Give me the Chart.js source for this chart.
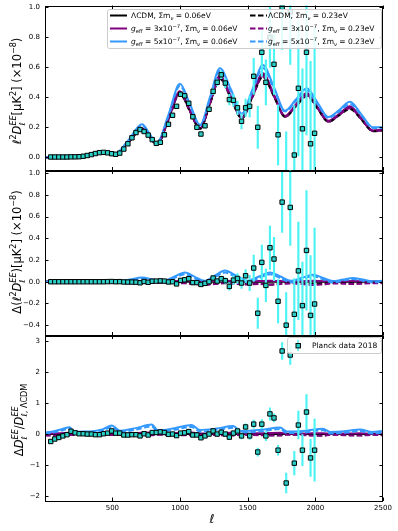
<!DOCTYPE html>
<html><head><meta charset="utf-8">
<script src="https://cdn.jsdelivr.net/npm/chart.js@4/dist/chart.umd.min.js"></script>
<style>
html,body{margin:0;padding:0;background:#fff;}
#wrap{position:relative;width:398px;height:531px;}
canvas{position:absolute;left:0;top:0;}
</style></head><body>
<div id="wrap">
<canvas id="c1" width="398" height="531"></canvas>
<canvas id="c2" width="398" height="531"></canvas>
<canvas id="c3" width="398" height="531"></canvas>
</div>
<script>
// ---------- Planck 2018 EE binned data (multipole bin centres) ----------
const dataEll = [44.5,74.5,104.5,134.5,164.5,194.5,224.5,254.5,284.5,314.5,
 344.5,374.5,404.5,434.5,464.5,494.5,524.5,554.5,584.5,614.5,
 644.5,674.5,704.5,734.5,764.5,794.5,824.5,854.5,884.5,914.5,
 944.5,974.5,1004.5,1034.5,1064.5,1094.5,1124.5,1154.5,1184.5,1214.5,
 1244.5,1274.5,1304.5,1334.5,1364.5,1394.5,1424.5,1454.5,1484.5,1514.5,
 1544.5,1574.5,1604.5,1634.5,1664.5,1694.5,1724.5,1754.5,1784.5,1814.5,
 1844.5,1874.5,1904.5,1934.5,1964.5,1994.5];
// panel 1: l^2 D_l^EE (x1e-8)
const dataD = [0.002,0.002,0.002,0.002,0.002,0.003,0.003,0.004,0.007,0.012,
 0.018,0.025,0.031,0.033,0.030,0.024,0.020,0.028,0.055,0.090,
 0.130,0.165,0.185,0.172,0.148,0.118,0.093,0.100,0.150,0.220,
 0.280,0.340,0.420,0.410,0.360,0.270,0.200,0.155,0.210,0.320,
 0.440,0.500,0.550,0.495,0.385,0.380,0.330,0.240,0.330,0.340,
 0.540,0.200,0.700,0.500,0.800,0.620,0.150,1.000,-0.130,0.970,
 0.015,0.460,0.190,0.700,0.090,0.160];
// panel 2: difference to LCDM (x1e-8)
const dataDelta = [0,0,0,0,0,0,0,0,0,0,
 0,0,0,0,0.001,0.002,0,0.001,-0.002,-0.003,
 -0.003,-0.004,-0.010,0.002,-0.005,0.005,0.006,0.008,0.006,-0.002,
 0.000,-0.020,0.012,0.018,0.028,-0.008,-0.008,-0.025,-0.015,0.000,
 0.034,0.006,0.028,0.009,-0.043,0.015,0.030,-0.012,0.055,-0.012,
 0.126,-0.290,0.178,-0.034,0.313,0.209,-0.180,0.733,-0.400,0.684,
 -0.300,0.100,-0.220,0.288,-0.310,-0.205];
// panel 3: relative difference
const dataRel = [-0.24,-0.16,-0.11,-0.06,-0.02,0.09,0.04,0.01,0.01,0.00,
 0.00,-0.02,-0.02,0.01,0.03,0.10,0.03,0.03,-0.03,-0.03,
 -0.02,-0.02,-0.06,0.01,-0.03,0.05,0.05,0.07,0.05,-0.01,
 0.00,-0.05,0.03,0.04,0.08,-0.03,-0.03,-0.12,-0.06,0.00,
 0.10,0.00,0.06,0.00,-0.10,0.03,0.10,-0.06,0.23,-0.06,
 0.32,-0.58,0.32,-0.06,0.65,0.52,-0.52,2.68,-1.58,2.55,
 -0.94,0.29,-0.52,0.71,-0.77,-0.52];
const errAbs = [0.002,0.002,0.002,0.002,0.002,0.002,0.002,0.002,0.002,0.002,
 0.002,0.002,0.002,0.002,0.002,0.002,0.002,0.002,0.002,0.002,
 0.004,0.004,0.004,0.004,0.004,0.004,0.004,0.004,0.004,0.004,
 0.008,0.008,0.008,0.008,0.008,0.008,0.008,0.012,0.014,0.016,
 0.020,0.022,0.025,0.030,0.035,0.040,0.045,0.050,0.058,0.070,
 0.120,0.140,0.160,0.150,0.200,0.200,0.200,0.280,0.300,0.350,
 0.330,0.450,0.400,0.550,0.550,0.700];
const errRel = [0.02,0.02,0.02,0.02,0.02,0.02,0.02,0.02,0.02,0.02,
 0.02,0.02,0.02,0.02,0.02,0.02,0.02,0.02,0.02,0.02,
 0.02,0.02,0.02,0.02,0.02,0.02,0.02,0.02,0.02,0.02,
 0.02,0.02,0.02,0.02,0.02,0.02,0.02,0.04,0.04,0.05,
 0.05,0.05,0.05,0.06,0.07,0.08,0.09,0.10,0.10,0.11,
 0.13,0.13,0.15,0.15,0.20,0.13,0.16,0.27,0.32,0.30,
 0.38,0.45,0.50,0.56,0.60,1.00];

// ---------- theory curves, panel 1 ----------
const thEll1 = [2,100,200,280,340,408,460,515,617,719,773,828,913,999,1073,1148,1221,1295,1375,1456,1534,1612,1694,1776,1856,1936,2016,2096,2176,2256,2341,2426,2500];
const lcdm1    = [0,0.0008,0.002,0.008,0.020,0.031,0.026,0.019,0.100,0.190,0.140,0.085,0.250,0.433,0.310,0.190,0.360,0.535,0.400,0.260,0.405,0.550,0.410,0.270,0.345,0.420,0.330,0.238,0.285,0.333,0.255,0.175,0.180];
const g3m006_1 = [0,0.0008,0.002,0.008,0.020,0.031,0.026,0.019,0.101,0.193,0.142,0.086,0.253,0.440,0.315,0.193,0.366,0.545,0.408,0.265,0.412,0.560,0.418,0.276,0.352,0.428,0.337,0.243,0.290,0.340,0.260,0.179,0.184];
const g5m006_1 = [0,0.0009,0.0025,0.009,0.022,0.034,0.028,0.021,0.112,0.220,0.160,0.093,0.280,0.490,0.355,0.215,0.400,0.593,0.455,0.290,0.450,0.615,0.468,0.310,0.385,0.460,0.365,0.268,0.315,0.370,0.285,0.200,0.200];
const lcdm023_1 = [0,0.0008,0.002,0.008,0.019,0.030,0.025,0.018,0.098,0.187,0.138,0.085,0.245,0.425,0.305,0.190,0.355,0.522,0.395,0.260,0.398,0.535,0.405,0.270,0.338,0.408,0.325,0.236,0.280,0.322,0.250,0.174,0.178];
const g3m023_1 = [0,0.0008,0.002,0.008,0.019,0.030,0.025,0.018,0.099,0.189,0.140,0.086,0.248,0.430,0.308,0.191,0.358,0.527,0.399,0.262,0.402,0.540,0.409,0.272,0.342,0.413,0.329,0.238,0.283,0.327,0.253,0.176,0.180];
const g5m023_1 = [0,0.0009,0.0024,0.009,0.021,0.033,0.027,0.020,0.109,0.213,0.155,0.092,0.272,0.475,0.345,0.212,0.390,0.575,0.440,0.288,0.437,0.595,0.455,0.305,0.375,0.445,0.355,0.263,0.305,0.355,0.277,0.196,0.196];

// ---------- theory curves, panel 2 (difference) ----------
const thEll2 = [2,300,420,540,630,717,800,870,953,1037,1110,1180,1256,1332,1416,1500,1583,1665,1743,1820,1900,1983,2057,2130,2204,2278,2350,2420,2500];
const zeroEll = [2,2500];
const zeroVal = [0,0];
const g3m006_2 = [0,0,0.001,0,0.002,0.004,0.002,0.001,0.004,0.008,0.004,0.002,0.006,0.010,0.006,0.003,0.006,0.010,0.006,0.003,0.005,0.008,0.005,0.003,0.004,0.006,0.004,0.002,0.003];
const g5m006_2 = [0,0.001,0.005,0.002,0.020,0.040,0.020,0.005,0.045,0.086,0.045,0.008,0.055,0.104,0.055,0.010,0.048,0.086,0.048,0.008,0.036,0.064,0.035,0.006,0.020,0.034,0.020,0.005,0.008];
const lcdm023_2 = [0,0,-0.001,0,-0.002,-0.005,-0.006,-0.008,-0.010,-0.012,-0.018,-0.025,-0.018,-0.010,-0.016,-0.022,-0.016,-0.025,-0.018,-0.012,-0.016,-0.020,-0.016,-0.010,-0.012,-0.015,-0.012,-0.008,-0.010];
const g3m023_2 = [0,0,-0.001,0,-0.002,-0.006,-0.008,-0.010,-0.012,-0.015,-0.022,-0.028,-0.022,-0.014,-0.020,-0.026,-0.020,-0.028,-0.022,-0.016,-0.022,-0.030,-0.024,-0.016,-0.018,-0.022,-0.018,-0.014,-0.015];
const g5m023_2 = [0,0.001,0.004,0,0.014,0.030,0.012,-0.004,0.032,0.068,0.032,-0.006,0.040,0.084,0.040,-0.006,0.034,0.068,0.032,-0.006,0.024,0.050,0.022,-0.008,0.010,0.024,0.010,-0.006,-0.002];

// ---------- theory curves, panel 3 (relative) ----------
const thEll3 = [2,50,120,187,211,300,431,495,556,680,790,837,960,1086,1147,1270,1392,1450,1600,1739,1790,1930,2057,2110,2230,2330,2420,2500];
const g3m006_3 = [0.01,0.02,0.03,0.04,0.02,0.02,0.03,0.05,0.02,0.035,0.05,0.02,0.03,0.05,0.02,0.03,0.045,0.015,0.025,0.04,0.012,0.02,0.03,0.01,0.015,0.025,0.01,0.015];
const g5m006_3 = [0.05,0.075,0.15,0.22,0.075,0.08,0.16,0.28,0.11,0.20,0.31,0.12,0.19,0.29,0.13,0.18,0.26,0.10,0.14,0.215,0.08,0.11,0.17,0.07,0.10,0.15,0.07,0.10];
const lcdm023_3 = [-0.04,-0.04,-0.03,-0.02,-0.02,-0.015,-0.015,-0.02,-0.015,-0.02,-0.025,-0.01,-0.02,-0.03,-0.01,-0.025,-0.035,-0.01,-0.03,-0.04,-0.01,-0.03,-0.045,-0.01,-0.03,-0.04,-0.015,-0.03];
const g3m023_3 = [-0.05,-0.05,-0.04,-0.03,-0.03,-0.025,-0.025,-0.03,-0.025,-0.03,-0.035,-0.02,-0.03,-0.04,-0.02,-0.035,-0.045,-0.02,-0.04,-0.05,-0.02,-0.04,-0.055,-0.02,-0.04,-0.05,-0.025,-0.04];
const g5m023_3 = [0.02,0.04,0.11,0.17,0.04,0.05,0.12,0.22,0.07,0.15,0.25,0.07,0.14,0.23,0.08,0.13,0.20,0.05,0.09,0.16,0.03,0.06,0.12,0.02,0.05,0.10,0.02,0.05];

// ---------- ticks ----------
const xTicks = [500,1000,1500,2000,2500];
const yTicks1 = [0,0.2,0.4,0.6,0.8,1.0];
const yTicks2 = [-0.4,-0.2,0,0.2,0.4,0.6,0.8,1.0];
const yTicks3 = [-2,-1,0,1,2,3];

// ---------- styling ----------
const FAM = '"DejaVu Sans", sans-serif';
const C_BLACK = '#000000', C_PURPLE = '#800080', C_BLUE = '#3399ff';
const C_MARK = '#2ad0c8', C_ERR = '#4ef3f3';

function pts(xs, ys){ return xs.map((x,i)=>({x:x, y:ys[i]})); }
function lineDs(xs, ys, color, dashed, order){
  return {type:'line', data:pts(xs,ys), borderColor:color, borderWidth:2,
    borderDash: dashed?[5.5,2.5]:[], pointRadius:0, fill:false,
    cubicInterpolationMode:'monotone', order:order};
}
function errDs(xs, ys, es){
  return {type:'bar', data:xs.map((x,i)=>({x:x, y:[ys[i]-es[i], ys[i]+es[i]]})),
    backgroundColor:C_ERR, barThickness:1.5, grouped:false, order:1};
}
function markDs(xs, ys){
  return {type:'scatter', data:pts(xs,ys), pointStyle:'rect', pointRadius:3.1,
    backgroundColor:C_MARK, borderColor:'#000', borderWidth:1, order:0};
}

function fnt(sz, it){ return (it?'italic ':'') + sz + 'px ' + FAM; }
function layoutRich(ctx, parts, size){
  let w = 0; const items = [];
  for (const p of parts){
    if (p.stack){
      const s = size*0.7;
      ctx.font = fnt(s, true); const w1 = ctx.measureText(p.sup).width;
      ctx.font = fnt(s, p.subIt !== false); const w2 = ctx.measureText(p.sub).width;
      items.push({x:w, t:p.sup, f:fnt(s,true), dy:-size*0.45});
      items.push({x:w, t:p.sub, f:fnt(s,p.subIt !== false), dy:size*0.3});
      w += Math.max(w1,w2);
    } else {
      const s = p.pos ? size*0.7 : size;
      const f = fnt(s, p.it);
      ctx.font = f; const tw = ctx.measureText(p.t).width;
      items.push({x:w, t:p.t, f:f, dy: p.pos==='sup' ? -size*0.42 : (p.pos==='sub' ? size*0.25 : 0)});
      w += tw;
    }
  }
  return {w:w, items:items};
}
function drawRich(ctx, parts, size, x, y, rot, align){
  ctx.save(); ctx.translate(x, y); if (rot) ctx.rotate(rot);
  const L = layoutRich(ctx, parts, size);
  const x0 = align === 'left' ? 0 : -L.w/2;
  ctx.textBaseline = 'alphabetic'; ctx.textAlign = 'left'; ctx.fillStyle = '#000';
  for (const it of L.items){ ctx.font = it.f; ctx.fillText(it.t, x0 + it.x, it.dy + size*0.36); }
  ctx.restore();
}

function framePlugin(yT, extra){
  return {
    id:'frame',
    afterDatasetsDraw(chart){
      const ctx = chart.ctx, a = chart.chartArea, xs = chart.scales.x, ys = chart.scales.y;
      ctx.save();
      ctx.strokeStyle = '#000'; ctx.lineWidth = 1;
      ctx.strokeRect(Math.round(a.left)+0.5, Math.round(a.top)+0.5, Math.round(a.right-a.left)-1, Math.round(a.bottom-a.top)-1);
      ctx.beginPath();
      const TL = 3.5;
      for (const v of xTicks){
        const px = Math.round(xs.getPixelForValue(v))+0.5;
        ctx.moveTo(px, a.bottom); ctx.lineTo(px, a.bottom-TL);
        ctx.moveTo(px, a.top); ctx.lineTo(px, a.top+TL);
      }
      for (const v of yT){
        const py = Math.round(ys.getPixelForValue(v))+0.5;
        ctx.moveTo(a.left, py); ctx.lineTo(a.left+TL, py);
        ctx.moveTo(a.right, py); ctx.lineTo(a.right-TL, py);
      }
      ctx.stroke();
      ctx.restore();
    },
    afterDraw(chart){ if (extra) extra(chart); }
  };
}

function makeChart(id, cfg){
  return new Chart(document.getElementById(id), {
    type:'scatter',
    data:{datasets:cfg.datasets},
    options:{
      responsive:false, animation:false, devicePixelRatio:1, events:[],
      layout:{padding:{top:cfg.top, bottom:cfg.bottom, left:0, right:15}},
      plugins:{legend:{display:false}, tooltip:{enabled:false}},
      scales:{
        x:{type:'linear', min:2, max:2500, display:cfg.showX, offset:false,
          grid:{display:false, drawTicks:false, offset:false}, border:{display:false},
          afterBuildTicks:s=>{ s.ticks = xTicks.map(v=>({value:v})); },
          afterFit:s=>{ if (cfg.showX) s.height = 20; s.paddingLeft = 0; s.paddingRight = 0; },
          ticks:{font:{size:7, family:FAM}, color:'#000', padding:3, maxRotation:0, autoSkip:false,
            callback:v=>String(v)}},
        y:{type:'linear', min:cfg.min, max:cfg.max,
          grid:{display:false, drawTicks:false}, border:{display:false},
          afterBuildTicks:s=>{ s.ticks = cfg.yTicks.map(v=>({value:v})); },
          afterFit:s=>{ s.width = 45; s.paddingTop = 0; s.paddingBottom = 0; },
          ticks:{font:{size:7, family:FAM}, color:'#000', padding:5, autoSkip:false,
            callback:cfg.fmt}}
      }
    },
    plugins:[framePlugin(cfg.yTicks, cfg.extra)]
  });
}

const fmt1 = v => (v<0?'\u2212':'') + Math.abs(v).toFixed(1);
const fmt0 = v => (v<0?'\u2212':'') + Math.abs(v).toFixed(0);

function theory(xs, a, b, c, d, e, f){
  return [
    lineDs(xs[5], f, C_BLUE, true, 2),
    lineDs(xs[4], e, C_PURPLE, true, 3),
    lineDs(xs[3], d, C_BLACK, true, 4),
    lineDs(xs[2], c, C_BLUE, false, 5),
    lineDs(xs[1], b, C_PURPLE, false, 6),
    lineDs(xs[0], a, C_BLACK, false, 7)
  ];
}

const nuSub = {t:'\u03bd', pos:'sub', it:1};
const legRows = [
  [{t:'\u039bCDM, \u03a3m'}, nuSub, {t:' = 0.06eV'}],
  [{t:'g', it:1}, {t:'eff', pos:'sub'}, {t:' = 3x10'}, {t:'\u22127', pos:'sup'}, {t:', \u03a3m'}, nuSub, {t:' = 0.06eV'}],
  [{t:'g', it:1}, {t:'eff', pos:'sub'}, {t:' = 5x10'}, {t:'\u22127', pos:'sup'}, {t:', \u03a3m'}, nuSub, {t:' = 0.06eV'}],
  [{t:'\u039bCDM, \u03a3m'}, nuSub, {t:' = 0.23eV'}],
  [{t:'g', it:1}, {t:'eff', pos:'sub'}, {t:' = 3x10'}, {t:'\u22127', pos:'sup'}, {t:', \u03a3m'}, nuSub, {t:' = 0.23eV'}],
  [{t:'g', it:1}, {t:'eff', pos:'sub'}, {t:' = 5x10'}, {t:'\u22127', pos:'sup'}, {t:', \u03a3m'}, nuSub, {t:' = 0.23eV'}]
];
const legColors = [C_BLACK, C_PURPLE, C_BLUE, C_BLACK, C_PURPLE, C_BLUE];

function roundRect(ctx, x, y, w, h, r){
  ctx.beginPath();
  ctx.moveTo(x+r, y); ctx.lineTo(x+w-r, y); ctx.quadraticCurveTo(x+w, y, x+w, y+r);
  ctx.lineTo(x+w, y+h-r); ctx.quadraticCurveTo(x+w, y+h, x+w-r, y+h);
  ctx.lineTo(x+r, y+h); ctx.quadraticCurveTo(x, y+h, x, y+h-r);
  ctx.lineTo(x, y+r); ctx.quadraticCurveTo(x, y, x+r, y); ctx.closePath();
}

function extra1(chart){
  const ctx = chart.ctx;
  ctx.save();
  ctx.globalAlpha = 0.85; ctx.fillStyle = '#fff';
  roundRect(ctx, 107.5, 9.5, 274, 39, 2); ctx.fill();
  ctx.globalAlpha = 1; ctx.strokeStyle = '#cccccc'; ctx.lineWidth = 1; ctx.stroke();
  const rowsY = [15.5, 28.5, 41.5];
  for (let i=0;i<6;i++){
    const col = i<3 ? 0 : 1, r = i%3;
    const lx = col===0 ? 110 : 250, tx = col===0 ? 131 : 268;
    ctx.strokeStyle = legColors[i]; ctx.lineWidth = 2;
    ctx.setLineDash(i<3 ? [] : [5.5,2.5]);
    ctx.beginPath(); ctx.moveTo(lx, rowsY[r]); ctx.lineTo(lx+17, rowsY[r]); ctx.stroke();
    ctx.setLineDash([]);
    drawRich(ctx, legRows[i], 7.5, tx, rowsY[r], 0, 'left');
  }
  ctx.restore();
  drawRich(ctx, [{t:'\u2113',it:1},{t:'2',pos:'sup'},{t:'D',it:1},{stack:1,sup:'EE',sub:'\u2113'},
    {t:'[\u03bcK'},{t:'2',pos:'sup'},{t:'] (\u00d710'},{t:'\u22128',pos:'sup'},{t:')'}], 11.5, 17, 91, -Math.PI/2);
}
function extra2(chart){
  drawRich(chart.ctx, [{t:'\u0394('},{t:'\u2113',it:1},{t:'2',pos:'sup'},{t:'D',it:1},{stack:1,sup:'EE',sub:'\u2113'},
    {t:')[\u03bcK'},{t:'2',pos:'sup'},{t:'] (\u00d710'},{t:'\u22128',pos:'sup'},{t:')'}], 11.5, 17, 252, -Math.PI/2);
}
function extra3(chart){
  const ctx = chart.ctx;
  drawRich(ctx, [{t:'\u0394'},{t:'D',it:1},{stack:1,sup:'EE',sub:'\u2113'},{t:'/'},{t:'D',it:1},
    {stack:1,sup:'EE',sub:'\u2113, \u039bCDM', subIt:false}], 11.5, 19, 420, -Math.PI/2);
  ctx.save(); ctx.fillStyle = '#000'; ctx.font = fnt(12, true); ctx.textAlign = 'center'; ctx.textBaseline = 'middle';
  ctx.fillText('\u2113', 212, 520); ctx.restore();
  ctx.save();
  ctx.globalAlpha = 0.85; ctx.fillStyle = '#fff';
  roundRect(ctx, 287.5, 337.5, 94, 16, 2); ctx.fill();
  ctx.globalAlpha = 1; ctx.strokeStyle = '#cccccc'; ctx.lineWidth = 1; ctx.stroke();
  ctx.fillStyle = C_ERR; ctx.fillRect(297.3, 340, 1.5, 11);
  ctx.fillStyle = C_MARK; ctx.fillRect(296, 343.5, 4.4, 4.4);
  ctx.strokeStyle = '#000'; ctx.strokeRect(296, 343.5, 4.4, 4.4);
  ctx.fillStyle = '#000'; ctx.font = fnt(7.5, false); ctx.textBaseline = 'middle';
  ctx.fillText('Planck data 2018', 312, 346);
  ctx.restore();
}

const P1 = {top:5.5, bottom:531-170.5, min:-0.088, max:1.012, yTicks:yTicks1, fmt:fmt1, showX:false, extra:extra1,
  datasets:[markDs(dataEll,dataD), errDs(dataEll,dataD,errAbs)].concat(
    theory([thEll1,thEll1,thEll1,thEll1,thEll1,thEll1], lcdm1, g3m006_1, g5m006_1, lcdm023_1, g3m023_1, g5m023_1))};
const P2 = {top:170.5, bottom:531-335.5, min:-0.495, max:1.024, yTicks:yTicks2, fmt:fmt1, showX:false, extra:extra2,
  datasets:[markDs(dataEll,dataDelta), errDs(dataEll,dataDelta,errAbs)].concat(
    theory([zeroEll,thEll2,thEll2,thEll2,thEll2,thEll2], zeroVal, g3m006_2, g5m006_2, lcdm023_2, g3m023_2, g5m023_2))};
const P3 = {top:335.5, bottom:10, min:-2.16, max:3.18, yTicks:yTicks3, fmt:fmt0, showX:true, extra:extra3,
  datasets:[markDs(dataEll,dataRel), errDs(dataEll,dataRel,errRel)].concat(
    theory([zeroEll,thEll3,thEll3,thEll3,thEll3,thEll3], zeroVal, g3m006_3, g5m006_3, lcdm023_3, g3m023_3, g5m023_3))};

makeChart('c1', P1);
makeChart('c2', P2);
makeChart('c3', P3);
</script>
</body></html>
